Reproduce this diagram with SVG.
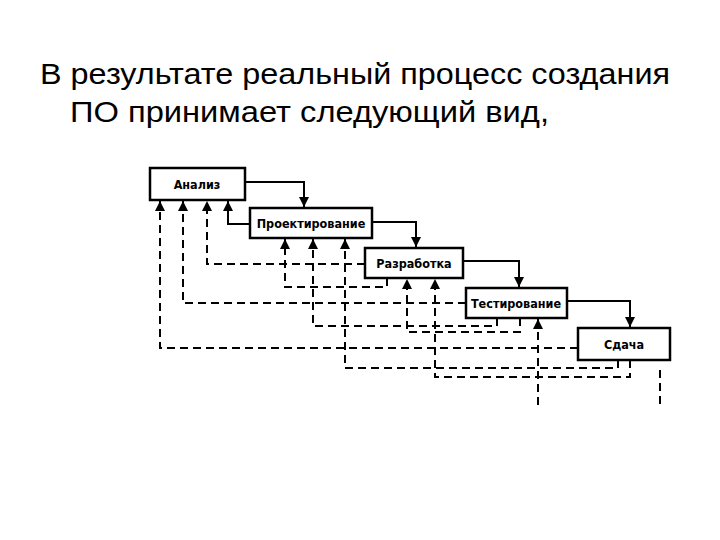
<svg xmlns="http://www.w3.org/2000/svg" width="720" height="540" viewBox="0 0 720 540">
<defs>
<marker id="a" viewBox="0 0 10 10" refX="10" refY="5" markerWidth="5" markerHeight="5" orient="auto"><path d="M0,0L10,5L0,10z" fill="#000"/></marker>
<style>
.t{font-family:"Liberation Sans",Arial,sans-serif;font-size:30px;fill:#000}
.b rect{fill:#fff;stroke:#000;stroke-width:2.5}
.b text{font-family:"DejaVu Sans Condensed","Liberation Sans",sans-serif;font-size:12.5px;font-weight:bold;text-anchor:middle;fill:#000}
.s{fill:none;stroke:#000;stroke-width:2}
.d{fill:none;stroke:#000;stroke-width:2;stroke-dasharray:8,5}
</style>
</defs>
<rect width="720" height="540" fill="#fff"/>
<text class="t" x="40" y="84" textLength="630" lengthAdjust="spacingAndGlyphs">В результате реальный процесс создания</text>
<text class="t" x="70" y="122" textLength="479" lengthAdjust="spacingAndGlyphs">ПО принимает следующий вид,</text>
<g id="conn">
<path class="s" d="M245,182H304V207" marker-end="url(#a)"/>
<path class="s" d="M372,222H416V247" marker-end="url(#a)"/>
<path class="s" d="M463,261H519V287" marker-end="url(#a)"/>
<path class="s" d="M567,301H630V327" marker-end="url(#a)"/>
<path class="s" d="M250,224H228V201" marker-end="url(#a)"/>
<path class="d" d="M365,264H207V201" marker-end="url(#a)"/>
<path class="d" d="M466,303H183V201" marker-end="url(#a)"/>
<path class="d" d="M578,348H160V201" marker-end="url(#a)"/>
<path class="d" d="M387,278V287H285V239" marker-end="url(#a)"/>
<path class="d" d="M497,318V326H313V239" marker-end="url(#a)"/>
<path class="d" d="M618,360V368H345V239" marker-end="url(#a)"/>
<path class="d" d="M520,318V332H407V279" marker-end="url(#a)"/>
<path class="d" d="M630,360V377H435V279" marker-end="url(#a)"/>
<path class="d" d="M538,405V319" marker-end="url(#a)"/>
<path class="d" d="M660,370V405" stroke-width="1.5"/>
</g>
<g id="n1" class="b"><rect x="150" y="168" width="95" height="32"/><text x="197" y="189">Анализ</text></g>
<g id="n2" class="b"><rect x="250" y="208" width="122" height="30"/><text x="311" y="228">Проектирование</text></g>
<g id="n3" class="b"><rect x="365" y="248" width="98" height="30"/><text x="414" y="268">Разработка</text></g>
<g id="n4" class="b"><rect x="466" y="288" width="101" height="30"/><text x="516" y="308">Тестирование</text></g>
<g id="n5" class="b"><rect x="578" y="328" width="92" height="32"/><text x="624" y="349">Сдача</text></g>
</svg>
